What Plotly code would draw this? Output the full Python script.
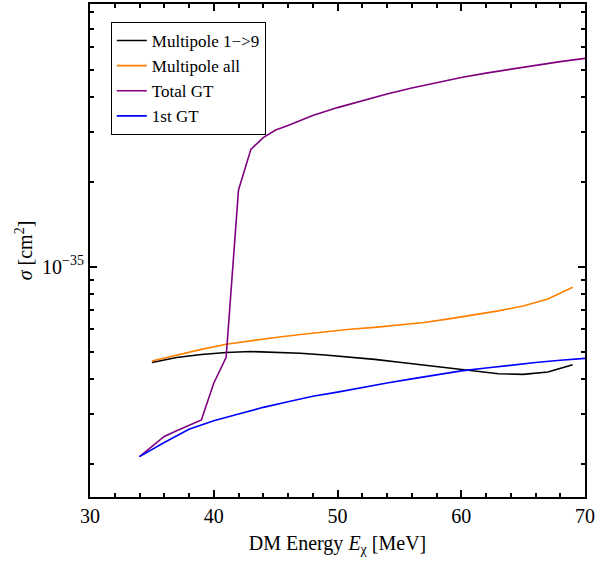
import plotly.graph_objects as go

# ---- data (cross sections in cm^2) ----
E_mp19 = [35, 37, 39, 41, 43, 45, 47, 49, 51, 53, 55, 57, 59, 61, 63, 65, 67, 69]
S_mp19 = [4.57e-36, 4.76e-36, 4.88e-36, 4.96e-36, 5.00e-36, 4.98e-36, 4.93e-36, 4.86e-36,
          4.78e-36, 4.69e-36, 4.58e-36, 4.48e-36, 4.37e-36, 4.27e-36, 4.17e-36, 4.15e-36,
          4.23e-36, 4.49e-36]

E_mpall = [35, 37, 39, 41, 43, 45, 47, 49, 51, 53, 55, 57, 59, 61, 63, 65, 67, 69]
S_mpall = [4.63e-36, 4.86e-36, 5.09e-36, 5.31e-36, 5.47e-36, 5.61e-36, 5.75e-36, 5.88e-36,
           6.00e-36, 6.09e-36, 6.20e-36, 6.34e-36, 6.53e-36, 6.74e-36, 6.97e-36, 7.26e-36,
           7.68e-36, 8.45e-36]

E_tot = [34, 35, 36, 37, 38, 39, 40, 41, 42, 43, 44, 45, 46, 48, 50, 52, 54, 56, 58, 60,
         62, 64, 66, 68, 70]
S_tot = [2.12e-36, 2.30e-36, 2.50e-36, 2.62e-36, 2.74e-36, 2.86e-36, 3.86e-36, 4.77e-36,
         1.871e-35, 2.609e-35, 2.872e-35, 3.053e-35, 3.167e-35, 3.437e-35, 3.668e-35,
         3.885e-35, 4.097e-35, 4.302e-35, 4.500e-35, 4.688e-35, 4.863e-35, 5.024e-35,
         5.191e-35, 5.342e-35, 5.483e-35]

E_1st = [34, 36, 38, 40, 42, 44, 46, 48, 50, 52, 54, 56, 58, 60, 62, 64, 66, 68, 70]
S_1st = [2.12e-36, 2.38e-36, 2.65e-36, 2.84e-36, 3.00e-36, 3.17e-36, 3.32e-36, 3.47e-36,
         3.59e-36, 3.73e-36, 3.87e-36, 4.00e-36, 4.13e-36, 4.27e-36, 4.37e-36, 4.48e-36,
         4.57e-36, 4.66e-36, 4.73e-36]

names = ["Multipole 1−>9", "Multipole all", "Total GT", "1st GT"]
colors = ["#000000", "#ff8000", "#800080", "#0000ff"]

x_major = [30, 40, 50, 60, 70]
x_minor = [32, 34, 36, 38, 42, 44, 46, 48, 52, 54, 56, 58, 62, 64, 66, 68]
y_major = [1e-35]
y_major_text = ["10<sup>−35</sup>"]
y_minor = [2e-36, 3e-36, 4e-36, 5e-36, 6e-36, 7e-36, 8e-36, 9e-36,
           2e-35, 3e-35, 4e-35, 5e-35, 6e-35, 7e-35, 8e-35]

fig = go.Figure()
for i, (x, y) in enumerate([(E_mp19, S_mp19), (E_mpall, S_mpall), (E_tot, S_tot), (E_1st, S_1st)]):
    fig.add_trace(go.Scatter(x=x, y=y, mode="lines", name=names[i],
                             legendgroup=str(i),
                             line=dict(color=colors[i], width=1.6)))

font = "Liberation Serif"
fig.update_layout(
    width=597, height=563,
    margin=dict(l=90, r=12, t=4, b=66, autoexpand=False),
    paper_bgcolor="white", plot_bgcolor="white",
    font=dict(family=font, color="black", size=20),
    legend=dict(x=0.042, y=0.9635, xanchor="left", yanchor="top",
                bordercolor="black", borderwidth=1, bgcolor="white",
                font=dict(family=font, size=17), tracegroupgap=0,
                itemwidth=30),
    showlegend=True,
)
fig.update_xaxes(
    range=[30, 70], tickmode="array", tickvals=x_major, automargin=False,
    ticks="inside", ticklen=7, tickwidth=1.5, tickcolor="black",
    minor=dict(tickmode="array", tickvals=x_minor,
               ticks="inside", ticklen=4, tickwidth=1.5, tickcolor="black"),
    showline=True, linecolor="black", linewidth=2, mirror="ticks",
    showgrid=False, zeroline=False,
    tickfont=dict(size=20),
    title=dict(text="DM Energy <i>E</i><sub>χ</sub> [MeV]", font=dict(size=20), standoff=10),
)
fig.update_yaxes(
    type="log", range=[-35.817, -34.068], automargin=False,
    tickmode="array", tickvals=y_major, ticktext=y_major_text,
    ticks="inside", ticklen=7, tickwidth=1.5, tickcolor="black",
    minor=dict(tickmode="array", tickvals=y_minor, ticks="inside", ticklen=4,
               tickwidth=1.5, tickcolor="black"),
    showline=True, linecolor="black", linewidth=2, mirror="ticks",
    showgrid=False, zeroline=False,
    tickfont=dict(size=20),
    title=dict(text="<i>σ</i> [cm<sup>2</sup>]", font=dict(size=20), standoff=4),
)

fig.write_html("out.html", config={"displayModeBar": False},
               post_script="document.body.style.margin='0';document.body.style.padding='0';")
